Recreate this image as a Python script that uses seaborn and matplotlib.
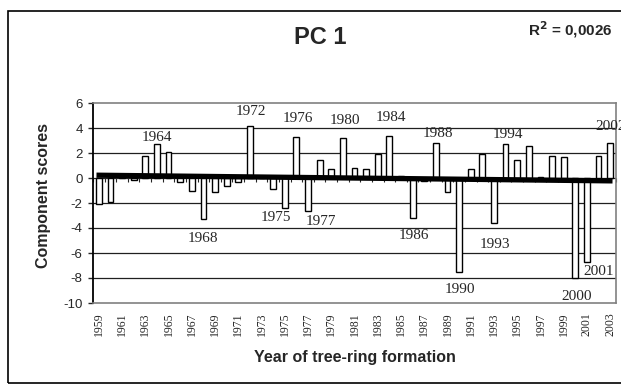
"""PC 1 component scores per year of tree-ring formation, with linear trend."""

import matplotlib
import matplotlib.pyplot as plt
import numpy as np
import seaborn as sns
from matplotlib.patches import Rectangle

matplotlib.use("Agg")

years = list(range(1959, 2004))
scores = [
    -2.1, -1.9, 0.1, -0.15, 1.8, 2.7, 2.1, -0.35, -1.0, -3.3,
    -1.1, -0.6, -0.35, 4.2, 0.05, -0.85, -2.4, 3.3, -2.6, 1.45,
    0.75, 3.2, 0.8, 0.7, 1.95, 3.4, 0.15, -3.2, -0.25, 2.8,
    -1.15, -7.5, 0.7, 1.9, -3.6, 2.75, 1.45, 2.6, 0.1, 1.8,
    1.7, -8.0, -6.75, 1.75, 2.8,
]
tick_years = list(range(1959, 2004, 2))
y_ticks = list(range(-10, 7, 2))

# labelled years: (text, x in years, y in score units)
year_labels = [
    ("1964", 1964.0, 3.25), ("1968", 1968.0, -4.8), ("1972", 1972.1, 5.3),
    ("1975", 1974.2, -3.15), ("1976", 1976.1, 4.75), ("1977", 1978.1, -3.45),
    ("1980", 1980.2, 4.6), ("1984", 1984.1, 4.85), ("1986", 1986.1, -4.6),
    ("1988", 1988.2, 3.55), ("1990", 1990.1, -8.9), ("1993", 1993.1, -5.3),
    ("1994", 1994.2, 3.5), ("2000", 2000.1, -9.45), ("2001", 2002.0, -7.5),
    ("2002", 2003.0, 4.15),
]

sns.set_style("white")
plt.rcParams["font.family"] = ["Liberation Sans", "DejaVu Sans"]

fig = plt.figure(figsize=(6.21, 3.87), dpi=100)
fig.patches.append(Rectangle((8 / 621, 4 / 387), 1.1, 372 / 387, transform=fig.transFigure,
                             fill=False, edgecolor="black", linewidth=1.2))
ax = fig.add_axes([93 / 621, 84 / 387, 523 / 621, 200 / 387])

for yv in y_ticks[1:-1]:
    ax.axhline(yv, color="#202020", linewidth=0.9, zorder=0)

sns.barplot(x=years, y=scores, native_scale=True, width=0.5, color="white",
            saturation=1, edgecolor="black", linewidth=1.0, errorbar=None, ax=ax, zorder=2)

slope, intercept = np.polyfit(years, scores, 1)
fit_x = np.array([years[0] - 0.2, years[-1] + 0.2])
ax.plot(fit_x, slope * fit_x + intercept, color="black", linewidth=3.8,
        solid_capstyle="butt", zorder=3)

for text, x, y in year_labels:
    ax.text(x, y, text, ha="center", va="center", fontsize=11,
            family="Liberation Serif", clip_on=False, zorder=4)

ax.set_xlim(1958.5, 2003.5)
ax.set_ylim(-10, 6)
ax.set_yticks(y_ticks)
ax.set_yticklabels([str(v) for v in y_ticks], fontsize=9.5)
ax.set_xticks(tick_years)
ax.set_xticklabels([str(v) for v in tick_years], rotation=90, fontsize=8.5,
                   family="Liberation Serif")
ax.tick_params(axis="x", length=0, pad=7)
ax.tick_params(axis="y", length=3.5, width=1, direction="out", pad=4, left=True)

# category ticks on the zero line
zero_axis = ax.secondary_xaxis(10 / 16)
zero_axis.set_xticks(np.arange(1958.5, 2004, 1.0))
zero_axis.tick_params(axis="x", direction="out", length=3, width=0.8, labelbottom=False,
                      labeltop=False, bottom=True, top=False)
zero_axis.spines["bottom"].set_visible(False)
zero_axis.spines["top"].set_visible(False)

for side in ("top", "right", "bottom"):
    ax.spines[side].set_color("#808080")
    ax.spines[side].set_linewidth(1.2)
ax.spines["left"].set_color("black")
ax.spines["left"].set_linewidth(1.3)

ax.set_xlabel("Year of tree-ring formation", fontsize=11.5, fontweight="bold")
ax.set_ylabel("Component scores", fontsize=11.5, fontweight="bold")
ax.xaxis.set_label_coords(0.5, -0.235)
ax.yaxis.set_label_coords(-0.08, 0.54)

fig.text(320 / 621, 1 - 37 / 387, "PC 1", ha="center", va="center", fontsize=17,
         fontweight="bold")
fig.text(570 / 621, 1 - 30 / 387, r"R$^\mathbf{2}$ = 0,0026", ha="center", va="center",
         fontsize=11, fontweight="bold")

fig.savefig("out.png", dpi=100)
plt.close(fig)
